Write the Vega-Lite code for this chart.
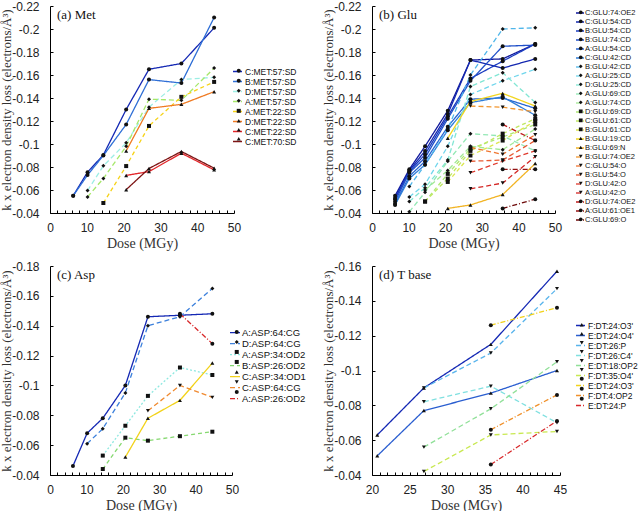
{
"$schema": "https://vega.github.io/schema/vega-lite/v6.json",
"padding": {"left": 0, "top": 0, "right": 0, "bottom": 0},
"columns": 2,
"spacing": {"row": 51, "column": 134},
"bounds": "flush",
"align": "all",
"config": {
  "view": {"stroke": null},
  "axis": {"grid": false, "domain": true, "ticks": true, "labelOverlap": false, "labelFlush": false, "domainColor": "#000", "domainWidth": 1, "tickColor": "#000", "tickWidth": 1, "tickSize": -3, "labelFont": "Liberation Sans", "labelFontSize": 12, "labelColor": "#222", "titleFont": "Liberation Serif", "titleFontSize": 14, "titleFontWeight": "normal", "titleColor": "#333"},
  "axisX": {"labelPadding": 12, "titlePadding": 3},
  "axisY": {"labelPadding": 14, "titleFontSize": 13, "titlePadding": -2},
  "legend": {"labelFont": "Liberation Sans", "labelColor": "#111", "padding": 0, "titlePadding": 0}
},
"resolve": {"scale": {"color": "independent", "shape": "independent", "strokeDash": "independent", "x": "independent", "y": "independent"}, "legend": {"color": "independent", "shape": "independent", "strokeDash": "independent"}},
"concat": [
  {"width": 184, "height": 207,
   "title": {"text": "(a) Met", "anchor": "start", "frame": "group", "offset": -22, "dx": 7, "font": "Liberation Serif", "fontSize": 13, "fontWeight": "normal", "color": "#111"},
   "data": {"values": [
    {"s":"C:MET:57:SD","d":6.3,"v":-0.055},{"s":"C:MET:57:SD","d":10.2,"v":-0.0755},{"s":"C:MET:57:SD","d":14.5,"v":-0.0905},{"s":"C:MET:57:SD","d":20.7,"v":-0.130},{"s":"C:MET:57:SD","d":26.9,"v":-0.165},{"s":"C:MET:57:SD","d":35.7,"v":-0.170},{"s":"C:MET:57:SD","d":44.6,"v":-0.201},
    {"s":"B:MET:57:SD","d":6.3,"v":-0.055},{"s":"B:MET:57:SD","d":10.2,"v":-0.073},{"s":"B:MET:57:SD","d":14.5,"v":-0.090},{"s":"B:MET:57:SD","d":20.7,"v":-0.117},{"s":"B:MET:57:SD","d":26.9,"v":-0.156},{"s":"B:MET:57:SD","d":35.7,"v":-0.153},{"s":"B:MET:57:SD","d":44.6,"v":-0.210},
    {"s":"D:MET:57:SD","d":10.2,"v":-0.0595},{"s":"D:MET:57:SD","d":14.5,"v":-0.081},{"s":"D:MET:57:SD","d":20.7,"v":-0.101},{"s":"D:MET:57:SD","d":26.9,"v":-0.132},{"s":"D:MET:57:SD","d":35.7,"v":-0.156},{"s":"D:MET:57:SD","d":44.6,"v":-0.158},
    {"s":"A:MET:57:SD","d":10.2,"v":-0.054},{"s":"A:MET:57:SD","d":14.5,"v":-0.070},{"s":"A:MET:57:SD","d":20.7,"v":-0.098},{"s":"A:MET:57:SD","d":26.9,"v":-0.139},{"s":"A:MET:57:SD","d":35.7,"v":-0.138},{"s":"A:MET:57:SD","d":44.6,"v":-0.166},
    {"s":"A:MET:22:SD","d":14.5,"v":-0.0487},{"s":"A:MET:22:SD","d":20.7,"v":-0.0808},{"s":"A:MET:22:SD","d":26.9,"v":-0.1157},{"s":"A:MET:22:SD","d":35.7,"v":-0.141},{"s":"A:MET:22:SD","d":44.6,"v":-0.154},
    {"s":"D:MET:22:SD","d":20.7,"v":-0.094},{"s":"D:MET:22:SD","d":26.9,"v":-0.131},{"s":"D:MET:22:SD","d":35.7,"v":-0.1345},{"s":"D:MET:22:SD","d":44.6,"v":-0.1455},
    {"s":"C:MET:22:SD","d":20.7,"v":-0.0727},{"s":"C:MET:22:SD","d":26.9,"v":-0.076},{"s":"C:MET:22:SD","d":35.7,"v":-0.092},{"s":"C:MET:22:SD","d":44.6,"v":-0.0775},
    {"s":"C:MET:70:SD","d":20.7,"v":-0.0603},{"s":"C:MET:70:SD","d":26.9,"v":-0.0787},{"s":"C:MET:70:SD","d":35.7,"v":-0.0935},{"s":"C:MET:70:SD","d":44.6,"v":-0.079}
   ]},
   "encoding": {
    "x": {"field": "d", "type": "quantitative", "scale": {"domain": [0, 50], "nice": false}, "axis": {"values": [0,2,4,6,8,10,12,14,16,18,20,22,24,26,28,30,32,34,36,38,40,42,44,46,48,50], "labelExpr": "datum.value % 10 === 0 ? datum.label : ''", "labelOverlap": false, "title": "Dose (MGy)"}},
    "y": {"field": "v", "type": "quantitative", "scale": {"domain": [-0.22, -0.04], "reverse": true, "nice": false, "zero": false}, "axis": {"values": [-0.22,-0.2,-0.18,-0.16,-0.14,-0.12,-0.1,-0.08,-0.06,-0.04], "labelExpr": "'' + datum.value", "labelOverlap": false, "title": "k x electron density loss (electrons/Å³)"}}
   },
   "layer": [
    {"mark": {"type": "line", "strokeWidth": 1.3},
     "encoding": {
      "color": {"field": "s", "type": "nominal", "scale": {"domain": ["C:MET:57:SD","B:MET:57:SD","D:MET:57:SD","A:MET:57:SD","A:MET:22:SD","D:MET:22:SD","C:MET:22:SD","C:MET:70:SD"], "range": ["#1428b4","#2f6fd6","#9ceee4","#a6e86a","#f6d215","#ef7a22","#e3262a","#7d1414"]}, "legend": {"orient": "none", "legendX": 182, "legendY": 60, "title": null, "symbolType": "stroke", "symbolSize": 81, "symbolStrokeWidth": 1.3, "labelFontSize": 8.5, "labelOffset": 2, "rowPadding": -2.7}},
      "strokeDash": {"field": "s", "type": "nominal", "scale": {"domain": ["C:MET:57:SD","B:MET:57:SD","D:MET:57:SD","A:MET:57:SD","A:MET:22:SD","D:MET:22:SD","C:MET:22:SD","C:MET:70:SD"], "range": [[1,0],[1,0],[5,3],[5,3],[4,3],[1,0],[1,0],[1,0]]}, "legend": {"orient": "none", "legendX": 182, "legendY": 60, "title": null, "symbolType": "stroke", "symbolSize": 81, "symbolStrokeWidth": 1.3, "labelFontSize": 8.5, "labelOffset": 2, "rowPadding": -2.7}}
     }},
    {"mark": {"type": "point", "filled": true, "color": "#111", "size": 16, "opacity": 1},
     "encoding": {
      "shape": {"field": "s", "type": "nominal", "scale": {"domain": ["C:MET:57:SD","B:MET:57:SD","D:MET:57:SD","A:MET:57:SD","A:MET:22:SD","D:MET:22:SD","C:MET:22:SD","C:MET:70:SD","~"], "range": ["circle","circle","diamond","diamond","square","triangle-up","triangle-up","triangle-up","circle"]}, "legend": {"orient": "none", "legendX": 184.5, "legendY": 60.6, "title": null, "values": ["C:MET:57:SD","B:MET:57:SD","D:MET:57:SD","A:MET:57:SD","A:MET:22:SD","D:MET:22:SD","C:MET:22:SD","C:MET:70:SD"], "symbolSize": 16, "labelFontSize": 8.5, "labelOffset": 2, "labelOpacity": 0, "rowPadding": -2.7}}
     }}
   ]},
  {"width": 183, "height": 207,
   "title": {"text": "(b) Glu", "anchor": "start", "frame": "group", "offset": -22, "dx": 7, "font": "Liberation Serif", "fontSize": 13, "fontWeight": "normal", "color": "#111"},
   "data": {"values": [
    {"s":"C:GLU:74:OE2","d":6.3,"v":-0.055},{"s":"C:GLU:74:OE2","d":10.2,"v":-0.078},{"s":"C:GLU:74:OE2","d":14.5,"v":-0.098},{"s":"C:GLU:74:OE2","d":20.7,"v":-0.129},{"s":"C:GLU:74:OE2","d":26.9,"v":-0.173},{"s":"C:GLU:74:OE2","d":35.7,"v":-0.174},{"s":"C:GLU:74:OE2","d":44.6,"v":-0.187},
    {"s":"C:GLU:54:CD","d":6.3,"v":-0.053},{"s":"C:GLU:54:CD","d":10.2,"v":-0.077},{"s":"C:GLU:54:CD","d":14.5,"v":-0.094},{"s":"C:GLU:54:CD","d":20.7,"v":-0.126},{"s":"C:GLU:54:CD","d":26.9,"v":-0.173},{"s":"C:GLU:54:CD","d":35.7,"v":-0.166},{"s":"C:GLU:54:CD","d":44.6,"v":-0.174},
    {"s":"B:GLU:54:CD","d":6.3,"v":-0.052},{"s":"B:GLU:54:CD","d":10.2,"v":-0.076},{"s":"B:GLU:54:CD","d":14.5,"v":-0.091},{"s":"B:GLU:54:CD","d":20.7,"v":-0.124},{"s":"B:GLU:54:CD","d":26.9,"v":-0.157},{"s":"B:GLU:54:CD","d":35.7,"v":-0.172},{"s":"B:GLU:54:CD","d":44.6,"v":-0.187},
    {"s":"B:GLU:74:CD","d":6.3,"v":-0.050},{"s":"B:GLU:74:CD","d":10.2,"v":-0.075},{"s":"B:GLU:74:CD","d":14.5,"v":-0.088},{"s":"B:GLU:74:CD","d":20.7,"v":-0.122},{"s":"B:GLU:74:CD","d":26.9,"v":-0.155},{"s":"B:GLU:74:CD","d":35.7,"v":-0.185},{"s":"B:GLU:74:CD","d":44.6,"v":-0.186},
    {"s":"A:GLU:54:CD","d":6.3,"v":-0.048},{"s":"A:GLU:54:CD","d":10.2,"v":-0.072},{"s":"A:GLU:54:CD","d":14.5,"v":-0.085},{"s":"A:GLU:54:CD","d":20.7,"v":-0.115},{"s":"A:GLU:54:CD","d":26.9,"v":-0.139},{"s":"A:GLU:54:CD","d":35.7,"v":-0.140},{"s":"A:GLU:54:CD","d":44.6,"v":-0.131},
    {"s":"C:GLU:42:CD","d":6.3,"v":-0.047},{"s":"C:GLU:42:CD","d":10.2,"v":-0.070},{"s":"C:GLU:42:CD","d":14.5,"v":-0.082},{"s":"C:GLU:42:CD","d":20.7,"v":-0.112},{"s":"C:GLU:42:CD","d":26.9,"v":-0.136},{"s":"C:GLU:42:CD","d":35.7,"v":-0.141},{"s":"C:GLU:42:CD","d":44.6,"v":-0.125},
    {"s":"B:GLU:42:CD","d":10.2,"v":-0.063},{"s":"B:GLU:42:CD","d":14.5,"v":-0.082},{"s":"B:GLU:42:CD","d":20.7,"v":-0.113},{"s":"B:GLU:42:CD","d":26.9,"v":-0.160},{"s":"B:GLU:42:CD","d":35.7,"v":-0.200},{"s":"B:GLU:42:CD","d":44.6,"v":-0.201},
    {"s":"A:GLU:25:CD","d":10.2,"v":-0.054},{"s":"A:GLU:25:CD","d":14.5,"v":-0.065},{"s":"A:GLU:25:CD","d":20.7,"v":-0.098},{"s":"A:GLU:25:CD","d":26.9,"v":-0.143},{"s":"A:GLU:25:CD","d":35.7,"v":-0.155},{"s":"A:GLU:25:CD","d":44.6,"v":-0.165},
    {"s":"D:GLU:25:CD","d":10.2,"v":-0.050},{"s":"D:GLU:25:CD","d":14.5,"v":-0.062},{"s":"D:GLU:25:CD","d":20.7,"v":-0.086},{"s":"D:GLU:25:CD","d":26.9,"v":-0.150},{"s":"D:GLU:25:CD","d":35.7,"v":-0.162},{"s":"D:GLU:25:CD","d":44.6,"v":-0.136},
    {"s":"A:GLU:69:CD","d":10.2,"v":-0.041},{"s":"A:GLU:69:CD","d":14.5,"v":-0.058},{"s":"A:GLU:69:CD","d":20.7,"v":-0.085},{"s":"A:GLU:69:CD","d":26.9,"v":-0.109},{"s":"A:GLU:69:CD","d":35.7,"v":-0.107},{"s":"A:GLU:69:CD","d":44.6,"v":-0.094},
    {"s":"A:GLU:74:CD","d":14.5,"v":-0.060},{"s":"A:GLU:74:CD","d":20.7,"v":-0.077},{"s":"A:GLU:74:CD","d":26.9,"v":-0.098},{"s":"A:GLU:74:CD","d":35.7,"v":-0.095},{"s":"A:GLU:74:CD","d":44.6,"v":-0.113},
    {"s":"D:GLU:69:CD","d":14.5,"v":-0.050},{"s":"D:GLU:69:CD","d":20.7,"v":-0.074},{"s":"D:GLU:69:CD","d":26.9,"v":-0.096},{"s":"D:GLU:69:CD","d":35.7,"v":-0.106},{"s":"D:GLU:69:CD","d":44.6,"v":-0.117},
    {"s":"C:GLU:61:CD","d":14.5,"v":-0.050},{"s":"C:GLU:61:CD","d":20.7,"v":-0.070},{"s":"C:GLU:61:CD","d":26.9,"v":-0.094},{"s":"C:GLU:61:CD","d":35.7,"v":-0.109},{"s":"C:GLU:61:CD","d":44.6,"v":-0.122},
    {"s":"B:GLU:61:CD","d":20.7,"v":-0.067},{"s":"B:GLU:61:CD","d":26.9,"v":-0.090},{"s":"B:GLU:61:CD","d":35.7,"v":-0.103},{"s":"B:GLU:61:CD","d":44.6,"v":-0.120},
    {"s":"B:GLU:19:CD","d":20.7,"v":-0.105},{"s":"B:GLU:19:CD","d":26.9,"v":-0.137},{"s":"B:GLU:19:CD","d":35.7,"v":-0.144},{"s":"B:GLU:19:CD","d":44.6,"v":-0.133},
    {"s":"B:GLU:69:N","d":20.7,"v":-0.044},{"s":"B:GLU:69:N","d":26.9,"v":-0.047},{"s":"B:GLU:69:N","d":35.7,"v":-0.056},{"s":"B:GLU:69:N","d":44.6,"v":-0.083},
    {"s":"B:GLU:74:OE2","d":26.9,"v":-0.133},{"s":"B:GLU:74:OE2","d":35.7,"v":-0.132},{"s":"B:GLU:74:OE2","d":44.6,"v":-0.128},
    {"s":"C:GLU:54:O","d":26.9,"v":-0.097},{"s":"C:GLU:54:O","d":35.7,"v":-0.091},{"s":"C:GLU:54:O","d":44.6,"v":-0.108},
    {"s":"B:GLU:54:O","d":26.9,"v":-0.085},{"s":"B:GLU:54:O","d":35.7,"v":-0.086},{"s":"B:GLU:54:O","d":44.6,"v":-0.103},
    {"s":"D:GLU:42:O","d":26.9,"v":-0.075},{"s":"D:GLU:42:O","d":35.7,"v":-0.085},{"s":"D:GLU:42:O","d":44.6,"v":-0.094},
    {"s":"A:GLU:42:O","d":26.9,"v":-0.061},{"s":"A:GLU:42:O","d":35.7,"v":-0.066},{"s":"A:GLU:42:O","d":44.6,"v":-0.089},
    {"s":"D:GLU:74:OE2","d":35.7,"v":-0.117},{"s":"D:GLU:74:OE2","d":44.6,"v":-0.103},
    {"s":"A:GLU:61:OE1","d":35.7,"v":-0.078},{"s":"A:GLU:61:OE1","d":44.6,"v":-0.078},
    {"s":"C:GLU:69:O","d":35.7,"v":-0.044},{"s":"C:GLU:69:O","d":44.6,"v":-0.052}
   ]},
   "encoding": {
    "x": {"field": "d", "type": "quantitative", "scale": {"domain": [0, 50], "nice": false}, "axis": {"values": [0,2,4,6,8,10,12,14,16,18,20,22,24,26,28,30,32,34,36,38,40,42,44,46,48,50], "labelExpr": "datum.value % 10 === 0 ? datum.label : ''", "labelOverlap": false, "title": "Dose (MGy)"}},
    "y": {"field": "v", "type": "quantitative", "scale": {"domain": [-0.22, -0.04], "reverse": true, "nice": false, "zero": false}, "axis": {"values": [-0.22,-0.2,-0.18,-0.16,-0.14,-0.12,-0.1,-0.08,-0.06,-0.04], "labelExpr": "'' + datum.value", "labelOverlap": false, "title": "k x electron density loss (electrons/Å³)"}}
   },
   "layer": [
    {"mark": {"type": "line", "strokeWidth": 1.3},
     "encoding": {
      "color": {"field": "s", "type": "nominal", "scale": {"domain": ["C:GLU:74:OE2","C:GLU:54:CD","B:GLU:54:CD","B:GLU:74:CD","A:GLU:54:CD","C:GLU:42:CD","B:GLU:42:CD","A:GLU:25:CD","D:GLU:25:CD","A:GLU:69:CD","A:GLU:74:CD","D:GLU:69:CD","C:GLU:61:CD","B:GLU:61:CD","B:GLU:19:CD","B:GLU:69:N","B:GLU:74:OE2","C:GLU:54:O","B:GLU:54:O","D:GLU:42:O","A:GLU:42:O","D:GLU:74:OE2","A:GLU:61:OE1","C:GLU:69:O"], "range": ["#10189c","#1428b0","#1a3cc0","#2050c8","#2866d2","#307ed8","#50b6ea","#70d6ec","#82e6d4","#92e8b4","#a2e894","#aee874","#c0e862","#dce650","#f2d620","#f2b424","#f2962e","#f07630","#e85830","#e03a2e","#d42624","#c01c1c","#941212","#6e0a0a"]}, "legend": {"orient": "none", "legendX": 203, "legendY": 2, "title": null, "symbolType": "stroke", "symbolSize": 64, "symbolStrokeWidth": 1.3, "labelFontSize": 7.5, "labelOffset": 0, "rowPadding": -2.3}},
      "strokeDash": {"field": "s", "type": "nominal", "scale": {"domain": ["C:GLU:74:OE2","C:GLU:54:CD","B:GLU:54:CD","B:GLU:74:CD","A:GLU:54:CD","C:GLU:42:CD","B:GLU:42:CD","A:GLU:25:CD","D:GLU:25:CD","A:GLU:69:CD","A:GLU:74:CD","D:GLU:69:CD","C:GLU:61:CD","B:GLU:61:CD","B:GLU:19:CD","B:GLU:69:N","B:GLU:74:OE2","C:GLU:54:O","B:GLU:54:O","D:GLU:42:O","A:GLU:42:O","D:GLU:74:OE2","A:GLU:61:OE1","C:GLU:69:O"], "range": [[1,0],[1,0],[1,0],[1,0],[1,0],[1,0],[5,3],[5,3],[5,3],[5,3],[5,3],[4,3],[4,3],[4,3],[1,0],[1,0],[5,3],[5,3],[5,3],[5,3],[5,3],[5,2,1,2],[5,2,1,2],[5,2,1,2]]}, "legend": {"orient": "none", "legendX": 203, "legendY": 2, "title": null, "symbolType": "stroke", "symbolSize": 64, "symbolStrokeWidth": 1.3, "labelFontSize": 7.5, "labelOffset": 0, "rowPadding": -2.3}}
     }},
    {"mark": {"type": "point", "filled": true, "color": "#111", "size": 16, "opacity": 1},
     "encoding": {
      "shape": {"field": "s", "type": "nominal", "scale": {"domain": ["C:GLU:74:OE2","C:GLU:54:CD","B:GLU:54:CD","B:GLU:74:CD","A:GLU:54:CD","C:GLU:42:CD","B:GLU:42:CD","A:GLU:25:CD","D:GLU:25:CD","A:GLU:69:CD","A:GLU:74:CD","D:GLU:69:CD","C:GLU:61:CD","B:GLU:61:CD","B:GLU:19:CD","B:GLU:69:N","B:GLU:74:OE2","C:GLU:54:O","B:GLU:54:O","D:GLU:42:O","A:GLU:42:O","D:GLU:74:OE2","A:GLU:61:OE1","C:GLU:69:O","~"], "range": ["circle","circle","circle","circle","circle","circle","diamond","diamond","diamond","diamond","diamond","square","square","square","triangle-up","triangle-up","triangle-down","triangle-down","triangle-down","triangle-down","triangle-down","circle","circle","circle","circle"]}, "legend": {"orient": "none", "legendX": 205, "legendY": 2.6, "title": null, "values": ["C:GLU:74:OE2","C:GLU:54:CD","B:GLU:54:CD","B:GLU:74:CD","A:GLU:54:CD","C:GLU:42:CD","B:GLU:42:CD","A:GLU:25:CD","D:GLU:25:CD","A:GLU:69:CD","A:GLU:74:CD","D:GLU:69:CD","C:GLU:61:CD","B:GLU:61:CD","B:GLU:19:CD","B:GLU:69:N","B:GLU:74:OE2","C:GLU:54:O","B:GLU:54:O","D:GLU:42:O","A:GLU:42:O","D:GLU:74:OE2","A:GLU:61:OE1","C:GLU:69:O"], "symbolSize": 14, "labelFontSize": 7.5, "labelOffset": 0, "labelOpacity": 0, "rowPadding": -2.3}}
     }}
   ]},
  {"width": 182, "height": 209,
   "title": {"text": "(c) Asp", "anchor": "start", "frame": "group", "offset": -22, "dx": 7, "font": "Liberation Serif", "fontSize": 13, "fontWeight": "normal", "color": "#111"},
   "data": {"values": [
    {"s":"A:ASP:64:CG","d":6.3,"v":-0.046},{"s":"A:ASP:64:CG","d":10.2,"v":-0.068},{"s":"A:ASP:64:CG","d":14.5,"v":-0.078},{"s":"A:ASP:64:CG","d":20.7,"v":-0.100},{"s":"A:ASP:64:CG","d":26.9,"v":-0.146},{"s":"A:ASP:64:CG","d":35.7,"v":-0.147},{"s":"A:ASP:64:CG","d":44.6,"v":-0.148},
    {"s":"D:ASP:64:CG","d":10.2,"v":-0.061},{"s":"D:ASP:64:CG","d":14.5,"v":-0.071},{"s":"D:ASP:64:CG","d":20.7,"v":-0.095},{"s":"D:ASP:64:CG","d":26.9,"v":-0.140},{"s":"D:ASP:64:CG","d":35.7,"v":-0.146},{"s":"D:ASP:64:CG","d":44.6,"v":-0.165},
    {"s":"A:ASP:34:OD2","d":14.5,"v":-0.053},{"s":"A:ASP:34:OD2","d":20.7,"v":-0.073},{"s":"A:ASP:34:OD2","d":26.9,"v":-0.093},{"s":"A:ASP:34:OD2","d":35.7,"v":-0.112},{"s":"A:ASP:34:OD2","d":44.6,"v":-0.107},
    {"s":"B:ASP:26:OD2","d":14.5,"v":-0.044},{"s":"B:ASP:26:OD2","d":20.7,"v":-0.065},{"s":"B:ASP:26:OD2","d":26.9,"v":-0.063},{"s":"B:ASP:26:OD2","d":35.7,"v":-0.066},{"s":"B:ASP:26:OD2","d":44.6,"v":-0.069},
    {"s":"C:ASP:34:OD1","d":20.7,"v":-0.052},{"s":"C:ASP:34:OD1","d":26.9,"v":-0.078},{"s":"C:ASP:34:OD1","d":35.7,"v":-0.090},{"s":"C:ASP:34:OD1","d":44.6,"v":-0.115},
    {"s":"C:ASP:64:CG","d":26.9,"v":-0.083},{"s":"C:ASP:64:CG","d":35.7,"v":-0.100},{"s":"C:ASP:64:CG","d":44.6,"v":-0.092},
    {"s":"A:ASP:26:OD2","d":35.7,"v":-0.148},{"s":"A:ASP:26:OD2","d":44.6,"v":-0.128}
   ]},
   "encoding": {
    "x": {"field": "d", "type": "quantitative", "scale": {"domain": [0, 50], "nice": false}, "axis": {"values": [0,2,4,6,8,10,12,14,16,18,20,22,24,26,28,30,32,34,36,38,40,42,44,46,48,50], "labelExpr": "datum.value % 10 === 0 ? datum.label : ''", "labelOverlap": false, "title": "Dose (MGy)"}},
    "y": {"field": "v", "type": "quantitative", "scale": {"domain": [-0.18, -0.04], "reverse": true, "nice": false, "zero": false}, "axis": {"values": [-0.18,-0.16,-0.14,-0.12,-0.1,-0.08,-0.06,-0.04], "labelExpr": "'' + datum.value", "labelOverlap": false, "title": "k x electron density loss (electrons/Å³)"}}
   },
   "layer": [
    {"mark": {"type": "line", "strokeWidth": 1.3},
     "encoding": {
      "color": {"field": "s", "type": "nominal", "scale": {"domain": ["A:ASP:64:CG","D:ASP:64:CG","A:ASP:34:OD2","B:ASP:26:OD2","C:ASP:34:OD1","C:ASP:64:CG","A:ASP:26:OD2"], "range": ["#1428b4","#3c80dc","#8ee8e0","#86d870","#f2d21a","#f08a30","#d8282a"]}, "legend": {"orient": "none", "legendX": 179, "legendY": 60.6, "title": null, "symbolType": "stroke", "symbolSize": 100, "symbolStrokeWidth": 1.3, "labelFontSize": 9.5, "labelOffset": 1, "rowPadding": -2.5}},
      "strokeDash": {"field": "s", "type": "nominal", "scale": {"domain": ["A:ASP:64:CG","D:ASP:64:CG","A:ASP:34:OD2","B:ASP:26:OD2","C:ASP:34:OD1","C:ASP:64:CG","A:ASP:26:OD2"], "range": [[1,0],[5,3],[2,2],[4,3],[1,0],[5,3],[5,2,1,2]]}, "legend": {"orient": "none", "legendX": 179, "legendY": 60.6, "title": null, "symbolType": "stroke", "symbolSize": 100, "symbolStrokeWidth": 1.3, "labelFontSize": 9.5, "labelOffset": 1, "rowPadding": -2.5}}
     }},
    {"mark": {"type": "point", "filled": true, "color": "#111", "size": 16, "opacity": 1},
     "encoding": {
      "shape": {"field": "s", "type": "nominal", "scale": {"domain": ["A:ASP:64:CG","D:ASP:64:CG","A:ASP:34:OD2","B:ASP:26:OD2","C:ASP:34:OD1","C:ASP:64:CG","A:ASP:26:OD2","~"], "range": ["circle","diamond","square","square","triangle-up","triangle-down","circle","circle"]}, "legend": {"orient": "none", "legendX": 182, "legendY": 61.2, "title": null, "values": ["A:ASP:64:CG","D:ASP:64:CG","A:ASP:34:OD2","B:ASP:26:OD2","C:ASP:34:OD1","C:ASP:64:CG","A:ASP:26:OD2"], "symbolSize": 16, "labelFontSize": 9.5, "labelOffset": 1, "labelOpacity": 0, "rowPadding": -2.5}}
     }}
   ]},
  {"width": 188, "height": 209,
   "title": {"text": "(d) T base", "anchor": "start", "frame": "group", "offset": -22, "dx": 7, "font": "Liberation Serif", "fontSize": 13, "fontWeight": "normal", "color": "#111"},
   "data": {"values": [
    {"s":"F:DT:24:O3'","d":20.7,"v":-0.063},{"s":"F:DT:24:O3'","d":26.9,"v":-0.090},{"s":"F:DT:24:O3'","d":35.8,"v":-0.115},{"s":"F:DT:24:O3'","d":44.6,"v":-0.157},
    {"s":"E:DT:24:O4'","d":20.7,"v":-0.051},{"s":"E:DT:24:O4'","d":26.9,"v":-0.077},{"s":"E:DT:24:O4'","d":35.8,"v":-0.087},{"s":"E:DT:24:O4'","d":44.6,"v":-0.100},
    {"s":"E:DT:26:P","d":26.9,"v":-0.090},{"s":"E:DT:26:P","d":35.8,"v":-0.110},{"s":"E:DT:26:P","d":44.6,"v":-0.147},
    {"s":"F:DT:26:C4'","d":26.9,"v":-0.082},{"s":"F:DT:26:C4'","d":35.8,"v":-0.091},{"s":"F:DT:26:C4'","d":44.6,"v":-0.070},
    {"s":"E:DT:18:OP2","d":26.9,"v":-0.056},{"s":"E:DT:18:OP2","d":35.8,"v":-0.078},{"s":"E:DT:18:OP2","d":44.6,"v":-0.105},
    {"s":"F:DT:35:O4'","d":26.9,"v":-0.042},{"s":"F:DT:35:O4'","d":35.8,"v":-0.063},{"s":"F:DT:35:O4'","d":44.6,"v":-0.065},
    {"s":"E:DT:24:O3'","d":35.8,"v":-0.126},{"s":"E:DT:24:O3'","d":44.6,"v":-0.136},
    {"s":"F:DT:4:OP2","d":35.8,"v":-0.066},{"s":"F:DT:4:OP2","d":44.6,"v":-0.086},
    {"s":"E:DT:24:P","d":35.8,"v":-0.046},{"s":"E:DT:24:P","d":44.6,"v":-0.071}
   ]},
   "encoding": {
    "x": {"field": "d", "type": "quantitative", "scale": {"domain": [20, 45], "nice": false, "zero": false}, "axis": {"values": [20,21,22,23,24,25,26,27,28,29,30,31,32,33,34,35,36,37,38,39,40,41,42,43,44,45], "labelExpr": "datum.value % 5 === 0 ? datum.label : ''", "labelOverlap": false, "title": "Dose (MGy)"}},
    "y": {"field": "v", "type": "quantitative", "scale": {"domain": [-0.16, -0.04], "reverse": true, "nice": false, "zero": false}, "axis": {"values": [-0.16,-0.14,-0.12,-0.1,-0.08,-0.06,-0.04], "labelExpr": "'' + datum.value", "labelOverlap": false, "title": "k x electron density loss (electrons/Å³)"}}
   },
   "layer": [
    {"mark": {"type": "line", "strokeWidth": 1.3},
     "encoding": {
      "color": {"field": "s", "type": "nominal", "scale": {"domain": ["F:DT:24:O3'","E:DT:24:O4'","E:DT:26:P","F:DT:26:C4'","E:DT:18:OP2","F:DT:35:O4'","E:DT:24:O3'","F:DT:4:OP2","E:DT:24:P"], "range": ["#1428b4","#2a5ed0","#58b4ec","#80e0e0","#90e098","#c8e850","#f2d21a","#f0902a","#d8282a"]}, "legend": {"orient": "none", "legendX": 203, "legendY": 54, "title": null, "symbolType": "stroke", "symbolSize": 81, "symbolStrokeWidth": 1.3, "labelFontSize": 8.5, "labelOffset": 2, "rowPadding": -2.5}},
      "strokeDash": {"field": "s", "type": "nominal", "scale": {"domain": ["F:DT:24:O3'","E:DT:24:O4'","E:DT:26:P","F:DT:26:C4'","E:DT:18:OP2","F:DT:35:O4'","E:DT:24:O3'","F:DT:4:OP2","E:DT:24:P"], "range": [[1,0],[1,0],[5,3],[5,3],[5,3],[5,3],[5,2,1,2],[5,2,1,2],[5,2,1,2]]}, "legend": {"orient": "none", "legendX": 203, "legendY": 54, "title": null, "symbolType": "stroke", "symbolSize": 81, "symbolStrokeWidth": 1.3, "labelFontSize": 8.5, "labelOffset": 2, "rowPadding": -2.5}}
     }},
    {"mark": {"type": "point", "filled": true, "color": "#111", "size": 16, "opacity": 1},
     "encoding": {
      "shape": {"field": "s", "type": "nominal", "scale": {"domain": ["F:DT:24:O3'","E:DT:24:O4'","E:DT:26:P","F:DT:26:C4'","E:DT:18:OP2","F:DT:35:O4'","E:DT:24:O3'","F:DT:4:OP2","E:DT:24:P","~"], "range": ["triangle-up","triangle-up","triangle-down","triangle-down","triangle-down","triangle-down","circle","circle","circle","circle"]}, "legend": {"orient": "none", "legendX": 205.5, "legendY": 54.6, "title": null, "values": ["F:DT:24:O3'","E:DT:24:O4'","E:DT:26:P","F:DT:26:C4'","E:DT:18:OP2","F:DT:35:O4'","E:DT:24:O3'","F:DT:4:OP2","E:DT:24:P"], "symbolSize": 16, "labelFontSize": 8.5, "labelOffset": 2, "labelOpacity": 0, "rowPadding": -2.5}}
     }}
   ]}
]
}
